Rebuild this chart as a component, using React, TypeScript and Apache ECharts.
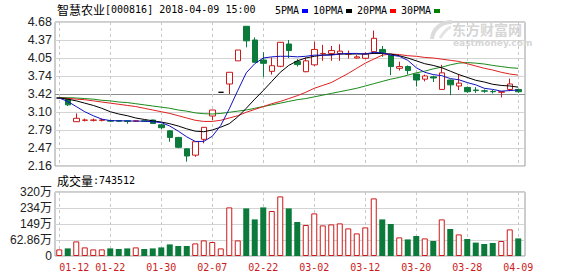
import React, { useEffect, useRef } from 'react';
import * as echarts from 'echarts';

const dates = [
  '01-12', '01-15', '01-16', '01-17', '01-18', '01-19', '01-22', '01-23', '01-24', '01-25',
  '01-26', '01-29', '01-30', '01-31', '02-01', '02-02', '02-05', '02-06', '02-07', '02-08',
  '02-09', '02-12', '02-13', '02-14', '02-22', '02-23', '02-26', '02-27', '02-28', '03-01',
  '03-02', '03-05', '03-06', '03-07', '03-08', '03-09', '03-12', '03-13', '03-14', '03-15',
  '03-16', '03-19', '03-20', '03-21', '03-22', '03-23', '03-26', '03-27', '03-28', '03-29',
  '03-30', '04-02', '04-03', '04-04', '04-09',
];

const opens = [
  3.35, 3.33, 2.935, 2.96, 2.96, 2.96, 2.955, 2.955, 2.95, 2.945,
  2.95, 2.965, 2.88, 2.775, 2.66, 2.46, 2.35, 2.627, 3.035, 3.45,
  3.595, 4.0, 4.605, 4.365, 4.015, 3.817, 3.905, 4.295, 3.99, 3.81,
  3.93, 4.125, 4.13, 4.13, 4.12, 4.05, 4.045, 4.16, 4.2, 4.1,
  3.87, 3.9, 3.77, 3.68, 3.72, 3.5, 3.665, 3.56, 3.535, 3.49,
  3.475, 3.465, 3.45, 3.5, 3.5,
];
const closes = [
  3.35, 3.23, 2.995, 2.965, 2.965, 2.965, 2.945, 2.945, 2.94, 2.95,
  2.945, 2.905, 2.83, 2.66, 2.487, 2.335, 2.585, 2.837, 3.14, 3.45,
  3.8, 4.19, 4.35, 3.975, 3.957, 3.915, 4.325, 4.18, 3.935, 4.0,
  4.2, 4.13, 4.18, 4.17, 4.125, 4.07, 4.12, 4.395, 4.14, 3.9,
  3.9, 3.83, 3.665, 3.735, 3.7, 3.79, 3.58, 3.61, 3.46, 3.48,
  3.47, 3.46, 3.46, 3.595, 3.46,
];
const lows = [
  3.35, 3.21, 2.93, 2.94, 2.94, 2.94, 2.93, 2.93, 2.9, 2.93,
  2.93, 2.9, 2.8, 2.585, 2.47, 2.235, 2.32, 2.557, 2.965, 3.45,
  3.42, 4.0, 4.237, 3.97, 3.72, 3.76, 3.89, 4.05, 3.9, 3.8,
  3.91, 4.0, 4.0, 4.0, 4.04, 4.04, 4.03, 4.12, 4.07, 3.75,
  3.83, 3.76, 3.55, 3.64, 3.63, 3.49, 3.4, 3.49, 3.44, 3.44,
  3.44, 3.43, 3.36, 3.47, 3.44,
];
const highs = [
  3.35, 3.35, 3.08, 2.99, 2.99, 2.99, 2.97, 2.96, 2.955, 2.96,
  2.96, 2.97, 2.9, 2.79, 2.67, 2.47, 2.585, 2.84, 3.14, 3.45,
  3.8, 4.19, 4.61, 4.41, 4.15, 4.06, 4.33, 4.365, 4.03, 4.06,
  4.335, 4.28, 4.26, 4.29, 4.18, 4.1, 4.15, 4.53, 4.26, 4.1,
  3.985, 3.92, 3.77, 3.76, 3.74, 3.93, 3.67, 3.77, 3.55, 3.54,
  3.5, 3.49, 3.47, 3.69, 3.51,
];

// volume in 万
const volumes = [
  33, 38, 73, 43, 33, 33, 38, 35, 38, 43,
  35, 38, 43, 58, 50, 50, 63, 78, 70, 38,
  243, 78, 238, 183, 243, 225, 298, 238, 170, 155,
  213, 153, 158, 163, 138, 113, 143, 288, 183, 160,
  93, 83, 100, 88, 75, 183, 135, 108, 85, 67,
  60, 65, 75, 133, 88,
];

const ma5 = [
  3.35, 3.29, 3.2, 3.11, 3.04, 2.98, 2.955, 2.95, 2.95, 2.945,
  2.945, 2.935, 2.92, 2.86, 2.77, 2.67, 2.59, 2.59, 2.68, 2.87,
  3.16, 3.48, 3.79, 3.95, 4.05, 4.07, 4.08, 4.08, 4.07, 4.08,
  4.1, 4.1, 4.1, 4.12, 4.13, 4.13, 4.12, 4.15, 4.14, 4.1,
  4.08, 4.01, 3.88, 3.8, 3.76, 3.74, 3.69, 3.67, 3.62, 3.58,
  3.52, 3.5, 3.47, 3.48, 3.49,
];
const ma10 = [
  3.35, 3.33, 3.3, 3.26, 3.22, 3.17, 3.11, 3.07, 3.04, 3.0,
  2.975, 2.95, 2.93, 2.9, 2.86, 2.81, 2.77, 2.76, 2.79, 2.84,
  2.9, 3.02, 3.17, 3.33, 3.48, 3.64, 3.8, 3.92, 4.0, 4.05,
  4.08, 4.1, 4.11, 4.12, 4.12, 4.12, 4.12, 4.13, 4.13, 4.12,
  4.09, 4.05, 4.0, 3.95, 3.92, 3.88, 3.82, 3.76, 3.71, 3.66,
  3.63, 3.59, 3.57, 3.56, 3.54,
];
const ma20 = [
  3.35, 3.345, 3.33, 3.32, 3.3, 3.28, 3.26, 3.24, 3.22, 3.2,
  3.17, 3.14, 3.11, 3.08, 3.04, 3.0, 2.96, 2.94, 2.94, 2.96,
  3.0, 3.04, 3.1, 3.15, 3.2, 3.25, 3.29, 3.34, 3.39, 3.45,
  3.52, 3.57, 3.62, 3.7, 3.78, 3.87, 3.96, 4.03, 4.1, 4.12,
  4.11, 4.09, 4.08, 4.06, 4.05, 4.03, 4.01, 3.99, 3.95, 3.91,
  3.87, 3.84, 3.8, 3.77, 3.75,
];
const ma30 = [
  3.36, 3.355, 3.35, 3.34, 3.33, 3.31, 3.3, 3.28, 3.27, 3.25,
  3.23, 3.21, 3.19, 3.17, 3.14, 3.12, 3.09, 3.075, 3.07, 3.08,
  3.1, 3.12, 3.14, 3.17, 3.2, 3.23, 3.26, 3.29, 3.32, 3.34,
  3.37, 3.4, 3.43, 3.46, 3.49, 3.52, 3.56, 3.6, 3.64, 3.68,
  3.71, 3.75, 3.79, 3.82, 3.86, 3.89, 3.93, 3.96, 3.97, 3.96,
  3.945, 3.92, 3.9, 3.88, 3.87,
];

const priceTicks = ['2.16', '2.47', '2.79', '3.10', '3.42', '3.74', '4.05', '4.37', '4.68'];
const volumeTicks = ['0', '62.86万', '149万', '234万', '320万'];
const legendNames = ['5PMA', '10PMA', '20PMA', '30PMA'];
const legendColors = ['#0000ff', '#000000', '#ff0000', '#008000'];
const maColors = ['#1010c0', '#000000', '#dd2020', '#1a8a1a'];
const stockName = '智慧农业';
const stockCodeTime = '[000816] 2018-04-09 15:00';
const volumeName = '成交量';
const lastVolume = '743512';

const PRICE_MIN = 2.16;
const PRICE_MAX = 4.68;
const PRICE_STEP = 0.315;
const VOL_MAX = 320;

const RED = '#cc1a1a';
const GREEN = '#0b7a3a';
const MONO = '"DejaVu Sans Mono", monospace';
const CJK = '"Noto Sans CJK SC", sans-serif';
const SANS = '"Liberation Sans", Arial, "Noto Sans CJK SC", sans-serif';

export default function App() {
  const ref = useRef<HTMLDivElement>(null);

  useEffect(() => {
    if (!ref.current) return;
    const chart = echarts.init(ref.current, undefined, { renderer: 'svg' });

    const candles = dates.map((_, i) => [opens[i], closes[i], lows[i], highs[i]]);
    const volData = volumes.map((v, i) => {
      const up =
        closes[i] > opens[i] ||
        (closes[i] === opens[i] && (i === 0 || closes[i] >= closes[i - 1]));
      return {
        value: v,
        itemStyle: up
          ? { color: '#ffffff', borderColor: RED, borderWidth: 1 }
          : { color: GREEN, borderWidth: 0 },
      };
    });

    const legendGraphics: any[] = [];
    let lx = 275;
    legendNames.forEach((name, k) => {
      legendGraphics.push({
        type: 'text',
        x: lx,
        y: 10,
        style: { text: name, font: `10px ${MONO}`, fill: '#000', verticalAlign: 'middle' },
      });
      const sx = lx + name.length * 6 + 3;
      legendGraphics.push({
        type: 'rect',
        shape: { x: sx, y: 9, width: 6, height: 4 },
        style: { fill: legendColors[k] },
      });
      lx = sx + 11;
    });

    const splitColors = priceTicks.map((_, k) => (k === 4 ? '#8c8c8c' : '#d4d4d4'));

    const option: any = {
      animation: false,
      backgroundColor: '#ffffff',
      grid: [
        { left: 55, top: 22, width: 470, height: 144, show: true, borderColor: '#9a9a9a', borderWidth: 1, backgroundColor: 'transparent' },
        { left: 55, top: 22, width: 467.5, height: 144 },
        { left: 55, top: 192, width: 470, height: 64, show: true, borderColor: '#9a9a9a', borderWidth: 1, backgroundColor: 'transparent' },
        { left: 55, top: 192, width: 467.5, height: 64 },
      ],
      xAxis: [
        { type: 'category', gridIndex: 0, data: dates, show: false },
        {
          type: 'category', gridIndex: 1, data: dates, boundaryGap: true,
          axisLine: { show: false }, axisTick: { show: false }, axisLabel: { show: false },
          splitLine: { show: true, interval: 5, alignWithLabel: true, lineStyle: { color: '#c8c8c8', type: [3, 3], width: 1 } },
        },
        { type: 'category', gridIndex: 2, data: dates, show: false },
        {
          type: 'category', gridIndex: 3, data: dates, boundaryGap: true,
          axisLine: { show: false }, axisTick: { show: false },
          axisLabel: {
            show: true, interval: 5, color: RED, fontFamily: MONO, fontSize: 10, margin: 6,
            alignMinLabel: 'left',
          },
          splitLine: { show: true, interval: 5, alignWithLabel: true, lineStyle: { color: '#c8c8c8', type: [3, 3], width: 1 } },
        },
      ],
      yAxis: [
        {
          type: 'value', gridIndex: 0, min: PRICE_MIN, max: PRICE_MAX, interval: PRICE_STEP,
          axisLine: { show: false }, axisTick: { show: false },
          axisLabel: {
            color: '#222', fontFamily: SANS, fontSize: 12.5, margin: 3,
            formatter: (v: number) => priceTicks[Math.round((v - PRICE_MIN) / PRICE_STEP)] ?? '',
          },
          splitLine: { show: true, lineStyle: { color: splitColors, width: 1 } },
        },
        { type: 'value', gridIndex: 1, min: PRICE_MIN, max: PRICE_MAX, show: false, splitLine: { show: false } },
        {
          type: 'value', gridIndex: 2, min: 0, max: VOL_MAX, interval: VOL_MAX / 4,
          axisLine: { show: false }, axisTick: { show: false },
          axisLabel: {
            color: '#222', fontFamily: SANS, fontSize: 12, margin: 3,
            formatter: (v: number) => volumeTicks[Math.round(v / (VOL_MAX / 4))] ?? '',
          },
          splitLine: { show: true, lineStyle: { color: '#d4d4d4', width: 1 } },
        },
        { type: 'value', gridIndex: 3, min: 0, max: VOL_MAX, show: false, splitLine: { show: false } },
      ],
      series: [
        {
          type: 'candlestick', xAxisIndex: 1, yAxisIndex: 1, data: candles, barWidth: 6,
          itemStyle: {
            color: '#ffffff', color0: GREEN, borderColor: RED, borderColor0: GREEN,
            borderColorDoji: '#000000', borderWidth: 1,
          },
          z: 3,
        },
        ...[ma5, ma10, ma20, ma30].map((d, k) => ({
          type: 'line', xAxisIndex: 1, yAxisIndex: 1, data: d, symbol: 'none',
          lineStyle: { color: maColors[k], width: 1 }, z: 4 - k * 0.1, silent: true,
        })),
        {
          type: 'bar', xAxisIndex: 3, yAxisIndex: 3, data: volData, barWidth: 6,
        },
      ],
      graphic: [
        {
          type: 'group', z: 0, silent: true,
          children: [
            { type: 'bezierCurve', shape: { x1: 432, y1: 39, x2: 452, y2: 22, cpx1: 433, cpy1: 28, cpx2: 442, cpy2: 22 }, style: { stroke: '#dcdcdc', lineWidth: 4, fill: null } },
            { type: 'bezierCurve', shape: { x1: 440, y1: 38, x2: 451, y2: 27, cpx1: 444, cpy1: 32, cpx2: 447, cpy2: 28 }, style: { stroke: '#e4e4e4', lineWidth: 3, fill: null } },
            { type: 'text', x: 452, y: 29, style: { text: '东方财富网', font: `bold 14px ${CJK}`, fill: '#d6d6d6', verticalAlign: 'middle' } },
            { type: 'text', x: 453, y: 43, style: { text: 'eastmoney.com', font: 'bold 9px "DejaVu Sans", sans-serif', fill: '#d6d6d6', verticalAlign: 'middle' } },
          ],
        },
        { type: 'text', x: 57, y: 9.5, style: { text: stockName, font: `12px ${CJK}`, fill: '#000', verticalAlign: 'middle' } },
        { type: 'text', x: 105, y: 9.5, style: { text: stockCodeTime, font: `10px ${MONO}`, fill: '#000', verticalAlign: 'middle' } },
        ...legendGraphics,
        { type: 'text', x: 57, y: 180, style: { text: volumeName, font: `12px ${CJK}`, fill: '#000', verticalAlign: 'middle' } },
        { type: 'text', x: 93, y: 180, style: { text: ':' + lastVolume, font: `10px ${MONO}`, fill: '#000', verticalAlign: 'middle' } },
      ],
    };

    chart.setOption(option);
    return () => chart.dispose();
  }, []);

  return (
    <div
      ref={ref}
      style={{ position: 'fixed', left: 0, top: 0, width: 578, height: 276, background: '#fff' }}
    />
  );
}
